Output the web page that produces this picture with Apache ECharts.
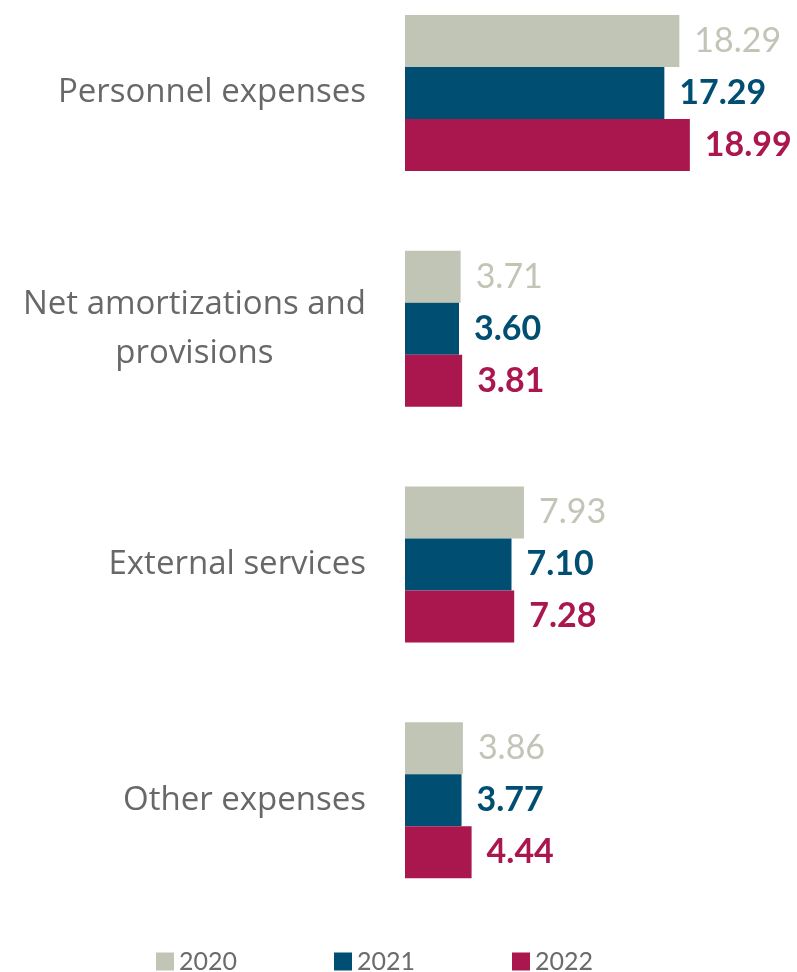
<!DOCTYPE html>
<html>
<head>
<meta charset="utf-8">
<script src="https://cdn.jsdelivr.net/npm/echarts@6/dist/echarts.min.js"></script>
<style>
  html, body { margin: 0; padding: 0; background: #fff; }
  #chart { width: 797px; height: 972px; }
</style>
</head>
<body>
<div id="chart"></div>
<script>
const categories = ['Personnel expenses', 'Net amortizations and\nprovisions', 'External services', 'Other expenses']
const years = ['2020', '2021', '2022']
const values2020 = [18.29, 3.71, 7.93, 3.86]
const values2021 = [17.29, 3.60, 7.10, 3.77]
const values2022 = [18.99, 3.81, 7.28, 4.44]

const colors = ['#c1c5b6', '#004f72', '#a9174e']
const font = 'Lato, "Open Sans", sans-serif'
const labelFont = '"Open Sans", Lato, sans-serif'

const makeSeries = (name, data, idx) => ({
  name,
  type: 'bar',
  data,
  barWidth: 52,
  barGap: 0,
  itemStyle: { color: colors[idx] },
  label: {
    show: true,
    position: 'right',
    distance: 15,
    color: colors[idx],
    fontFamily: font,
    fontSize: 34,
    fontWeight: idx === 0 ? 'normal' : 'bold',
    formatter: (p) => p.value.toFixed(2)
  }
})

const chart = echarts.init(document.getElementById('chart'))
chart.setOption({
  animation: false,
  grid: {
    left: 405,
    top: -25,
    height: 943,
    width: 375,
    outerBoundsMode: 'none',
    containLabel: false
  },
  legend: {
    top: 944,
    left: 151,
    itemWidth: 18,
    itemHeight: 18,
    itemGap: 97,
    icon: 'rect',
    textStyle: { fontFamily: font, fontSize: 25, color: '#6b6b6b' },
    data: years
  },
  xAxis: {
    type: 'value',
    min: 0,
    max: 25,
    show: false
  },
  yAxis: {
    type: 'category',
    inverse: true,
    data: categories,
    axisLine: { show: false },
    axisTick: { show: false },
    axisLabel: {
      margin: 39,
      formatter: (v) => v.split('\n').map((s) => '{c|' + s + '}').join('\n'),
      rich: {
        c: {
          align: 'center',
          fontFamily: labelFont,
          fontSize: 33,
          lineHeight: 49,
          color: '#686868'
        }
      }
    }
  },
  series: [
    makeSeries(years[0], values2020, 0),
    makeSeries(years[1], values2021, 1),
    makeSeries(years[2], values2022, 2)
  ]
})
</script>
</body>
</html>
